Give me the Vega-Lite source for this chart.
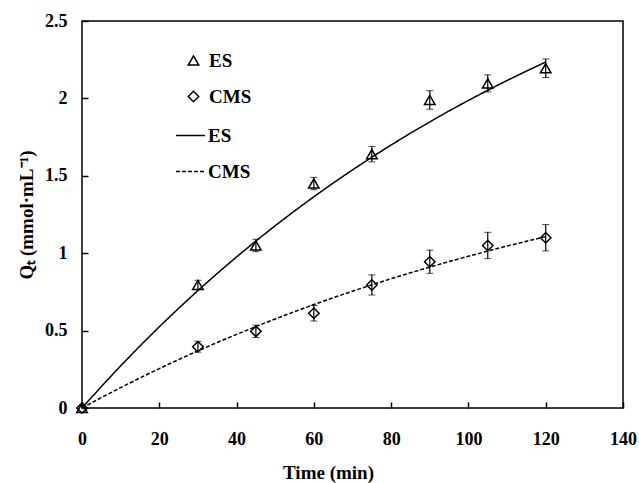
{
  "$schema": "https://vega.github.io/schema/vega-lite/v6.json",
  "width": 541,
  "height": 387,
  "autosize": "none",
  "padding": {"left": 82, "top": 21, "right": 16, "bottom": 75},
  "background": "white",
  "config": {
    "view": {"stroke": "black", "strokeWidth": 1.5},
    "font": "Liberation Serif",
    "axis": {
      "labelFont": "Liberation Serif",
      "labelFontWeight": "bold",
      "labelFontSize": 18,
      "labelColor": "black",
      "labelFlush": false,
      "titleFont": "Liberation Serif",
      "titleFontWeight": "bold",
      "titleFontSize": 19,
      "titleColor": "black",
      "grid": false,
      "domain": false,
      "tickColor": "black",
      "tickWidth": 1.5
    },
    "legend": {
      "labelFont": "Liberation Serif",
      "labelFontWeight": "bold",
      "labelFontSize": 19,
      "labelColor": "black"
    }
  },
  "datasets": {
    "obs": [
      {"t": 0, "q": 0, "err": 0, "sample": "ES"},
      {"t": 30, "q": 0.795, "err": 0.03, "sample": "ES"},
      {"t": 45, "q": 1.05, "err": 0.04, "sample": "ES"},
      {"t": 60, "q": 1.45, "err": 0.04, "sample": "ES"},
      {"t": 75, "q": 1.64, "err": 0.05, "sample": "ES"},
      {"t": 90, "q": 1.99, "err": 0.06, "sample": "ES"},
      {"t": 105, "q": 2.097, "err": 0.055, "sample": "ES"},
      {"t": 120, "q": 2.195, "err": 0.06, "sample": "ES"},
      {"t": 0, "q": 0, "err": 0, "sample": "CMS"},
      {"t": 30, "q": 0.396, "err": 0.035, "sample": "CMS"},
      {"t": 45, "q": 0.495, "err": 0.04, "sample": "CMS"},
      {"t": 60, "q": 0.612, "err": 0.05, "sample": "CMS"},
      {"t": 75, "q": 0.795, "err": 0.065, "sample": "CMS"},
      {"t": 90, "q": 0.945, "err": 0.075, "sample": "CMS"},
      {"t": 105, "q": 1.05, "err": 0.085, "sample": "CMS"},
      {"t": 120, "q": 1.10, "err": 0.085, "sample": "CMS"}
    ],
    "fit": [
      {"t": 0, "q": 0, "model": "ES fit"},
      {"t": 5, "q": 0.1386, "model": "ES fit"},
      {"t": 10, "q": 0.2721, "model": "ES fit"},
      {"t": 15, "q": 0.4007, "model": "ES fit"},
      {"t": 20, "q": 0.5246, "model": "ES fit"},
      {"t": 25, "q": 0.6439, "model": "ES fit"},
      {"t": 30, "q": 0.7588, "model": "ES fit"},
      {"t": 35, "q": 0.8695, "model": "ES fit"},
      {"t": 40, "q": 0.9761, "model": "ES fit"},
      {"t": 45, "q": 1.0788, "model": "ES fit"},
      {"t": 50, "q": 1.1777, "model": "ES fit"},
      {"t": 55, "q": 1.2729, "model": "ES fit"},
      {"t": 60, "q": 1.3647, "model": "ES fit"},
      {"t": 65, "q": 1.4531, "model": "ES fit"},
      {"t": 70, "q": 1.5382, "model": "ES fit"},
      {"t": 75, "q": 1.6202, "model": "ES fit"},
      {"t": 80, "q": 1.6992, "model": "ES fit"},
      {"t": 85, "q": 1.7753, "model": "ES fit"},
      {"t": 90, "q": 1.8485, "model": "ES fit"},
      {"t": 95, "q": 1.9191, "model": "ES fit"},
      {"t": 100, "q": 1.9871, "model": "ES fit"},
      {"t": 105, "q": 2.0525, "model": "ES fit"},
      {"t": 110, "q": 2.1156, "model": "ES fit"},
      {"t": 115, "q": 2.1763, "model": "ES fit"},
      {"t": 120, "q": 2.2349, "model": "ES fit"},
      {"t": 0, "q": 0, "model": "CMS fit"},
      {"t": 5, "q": 0.0670, "model": "CMS fit"},
      {"t": 10, "q": 0.1317, "model": "CMS fit"},
      {"t": 15, "q": 0.1942, "model": "CMS fit"},
      {"t": 20, "q": 0.2545, "model": "CMS fit"},
      {"t": 25, "q": 0.3128, "model": "CMS fit"},
      {"t": 30, "q": 0.3690, "model": "CMS fit"},
      {"t": 35, "q": 0.4233, "model": "CMS fit"},
      {"t": 40, "q": 0.4757, "model": "CMS fit"},
      {"t": 45, "q": 0.5264, "model": "CMS fit"},
      {"t": 50, "q": 0.5753, "model": "CMS fit"},
      {"t": 55, "q": 0.6225, "model": "CMS fit"},
      {"t": 60, "q": 0.6681, "model": "CMS fit"},
      {"t": 65, "q": 0.7120, "model": "CMS fit"},
      {"t": 70, "q": 0.7546, "model": "CMS fit"},
      {"t": 75, "q": 0.7956, "model": "CMS fit"},
      {"t": 80, "q": 0.8353, "model": "CMS fit"},
      {"t": 85, "q": 0.8735, "model": "CMS fit"},
      {"t": 90, "q": 0.9105, "model": "CMS fit"},
      {"t": 95, "q": 0.9461, "model": "CMS fit"},
      {"t": 100, "q": 0.9806, "model": "CMS fit"},
      {"t": 105, "q": 1.0139, "model": "CMS fit"},
      {"t": 110, "q": 1.0460, "model": "CMS fit"},
      {"t": 115, "q": 1.0770, "model": "CMS fit"},
      {"t": 120, "q": 1.1070, "model": "CMS fit"}
    ]
  },
  "encoding": {
    "x": {
      "field": "t", "type": "quantitative",
      "scale": {"domain": [0, 140], "nice": false},
      "axis": {"values": [0, 20, 40, 60, 80, 100, 120, 140], "tickSize": -6, "labelPadding": 28, "title": "Time (min)", "titleX": 246, "titleY": 70, "titleBaseline": "alphabetic", "titleAnchor": null, "titleAlign": "center"}
    },
    "y": {
      "field": "q", "type": "quantitative",
      "scale": {"domain": [0, 2.5], "nice": false},
      "axis": {"values": [0, 0.5, 1, 1.5, 2, 2.5], "format": "~g", "tickSize": -6, "labelPadding": 21, "title": "Qₜ (mmol·mL⁻¹)", "titleAngle": -90, "titleX": -50, "titleY": 193.5, "titleAlign": "center", "titleBaseline": "alphabetic"}
    }
  },
  "layer": [
    {
      "data": {"name": "fit"},
      "mark": {"type": "line", "color": "black", "strokeWidth": 1.5},
      "encoding": {
        "strokeDash": {
          "field": "model", "type": "nominal",
          "scale": {"domain": ["ES fit", "CMS fit"], "range": [[1, 0], [4, 2]]},
          "legend": {"title": null, "orient": "none", "legendX": 93, "legendY": 99, "symbolType": "stroke", "symbolSize": 841, "symbolStrokeColor": "black", "symbolStrokeWidth": 1.5, "rowPadding": 10, "labelOffset": 2, "labelExpr": "replace(datum.label, ' fit', '')"}
        }
      }
    },
    {
      "data": {"name": "obs"},
      "transform": [{"filter": "datum.err > 0"}],
      "mark": {"type": "errorbar", "color": "black", "ticks": {"size": 7, "strokeWidth": 1.2}, "rule": {"strokeWidth": 1.2}},
      "encoding": {
        "yError": {"field": "err"}
      }
    },
    {
      "data": {"name": "obs"},
      "mark": {"type": "point", "filled": false, "color": "black", "strokeWidth": 1.5, "size": 110, "opacity": 1},
      "encoding": {
        "shape": {
          "field": "sample", "type": "nominal",
          "scale": {"domain": ["ES", "CMS"], "range": ["triangle-up", "diamond"]},
          "legend": {"title": null, "orient": "none", "legendX": 102, "legendY": 30, "symbolStrokeColor": "black", "symbolStrokeWidth": 1.5, "symbolSize": 110, "rowPadding": 16, "labelOffset": 6}
        }
      }
    }
  ],
  "resolve": {"legend": {"shape": "independent", "strokeDash": "independent"}}
}
